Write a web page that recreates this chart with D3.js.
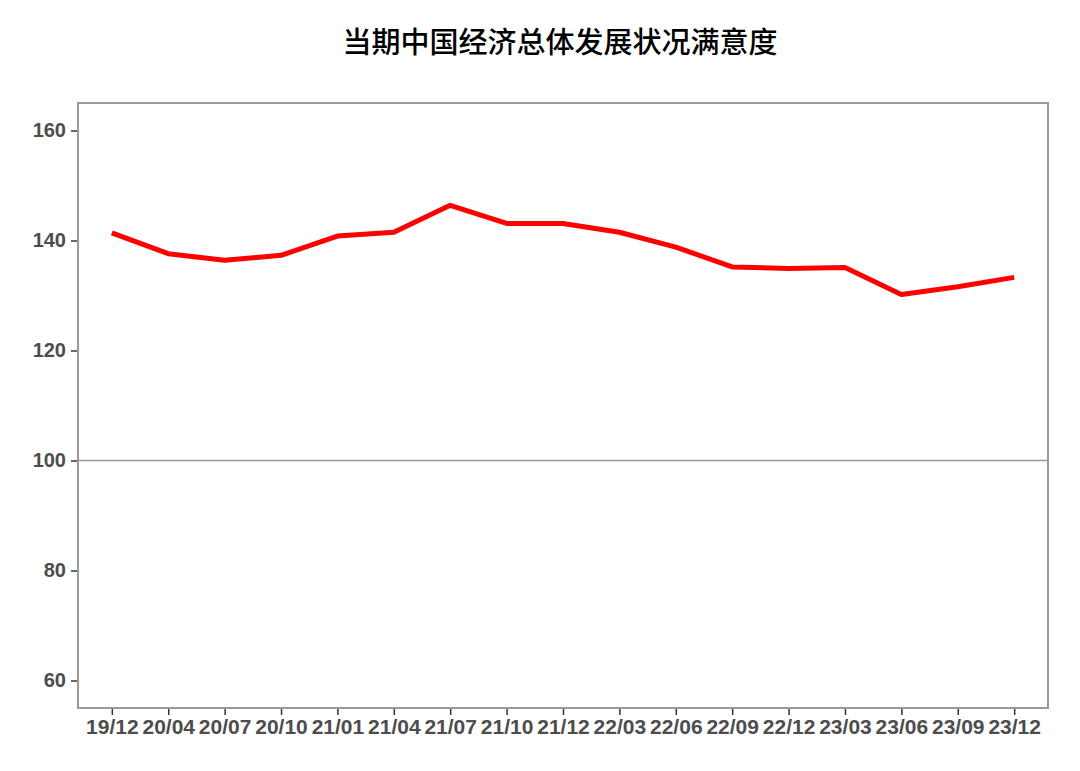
<!DOCTYPE html>
<html><head><meta charset="utf-8">
<script src="https://cdn.jsdelivr.net/npm/d3@7"></script>
<style>body{margin:0;background:#fff}</style>
</head><body>
<svg id="c" width="1080" height="771"></svg>
<script>
const categories = ["19/12","20/04","20/07","20/10","21/01","21/04","21/07","21/10","21/12","22/03","22/06","22/09","22/12","23/03","23/06","23/09","23/12"];
const values = [141.4,137.6,136.4,137.3,140.8,141.5,146.4,143.1,143.1,141.5,138.8,135.2,134.9,135.1,130.2,131.6,133.3];
const yTicks = [60,80,100,120,140,160];
const refLine = 100;
const title = "当期中国经济总体发展状况满意度";

const svg = d3.select("#c");
const L = 78, R = 1048, T = 103, B = 708;
const x = d3.scalePoint().domain(categories).range([L, R]).padding(0.6);
const y = d3.scaleLinear().domain([55, 165]).range([B, T]);

svg.append("text").attr("x", 560).attr("y", 53).attr("text-anchor","middle")
  .attr("font-family","'Noto Sans CJK SC'").attr("font-size",29).attr("font-weight",500).attr("fill","#000")
  .text(title);

svg.append("line").attr("x1",L).attr("x2",R).attr("y1",y(refLine)).attr("y2",y(refLine))
  .attr("stroke","#999").attr("stroke-width",1.5);

const line = d3.line().x((d,i)=>x(categories[i])).y(d=>y(d));
svg.append("path").datum(values).attr("d",line).attr("fill","none")
  .attr("stroke","#ff0000").attr("stroke-width",5).attr("stroke-linejoin","round");

svg.append("rect").attr("x",L).attr("y",T).attr("width",R-L).attr("height",B-T)
  .attr("fill","none").attr("stroke","#999").attr("stroke-width",2);

const yAx = svg.append("g").attr("transform",`translate(${L-1},0)`)
  .call(d3.axisLeft(y).tickValues(yTicks).tickSize(6).tickPadding(5));
const xAx = svg.append("g").attr("transform",`translate(0,${B+1})`)
  .call(d3.axisBottom(x).tickSize(6).tickPadding(4));
[yAx,xAx].forEach(g=>{
  g.select(".domain").remove();
  g.selectAll(".tick line").attr("stroke","#333").attr("stroke-width",1.5);
  g.selectAll(".tick text").attr("fill","#4d4d4d").attr("font-family","'Liberation Sans', Arial")
   .attr("font-weight","bold").attr("font-size",20);
});
xAx.selectAll(".tick text").attr("font-size",21);
</script>
</body></html>
